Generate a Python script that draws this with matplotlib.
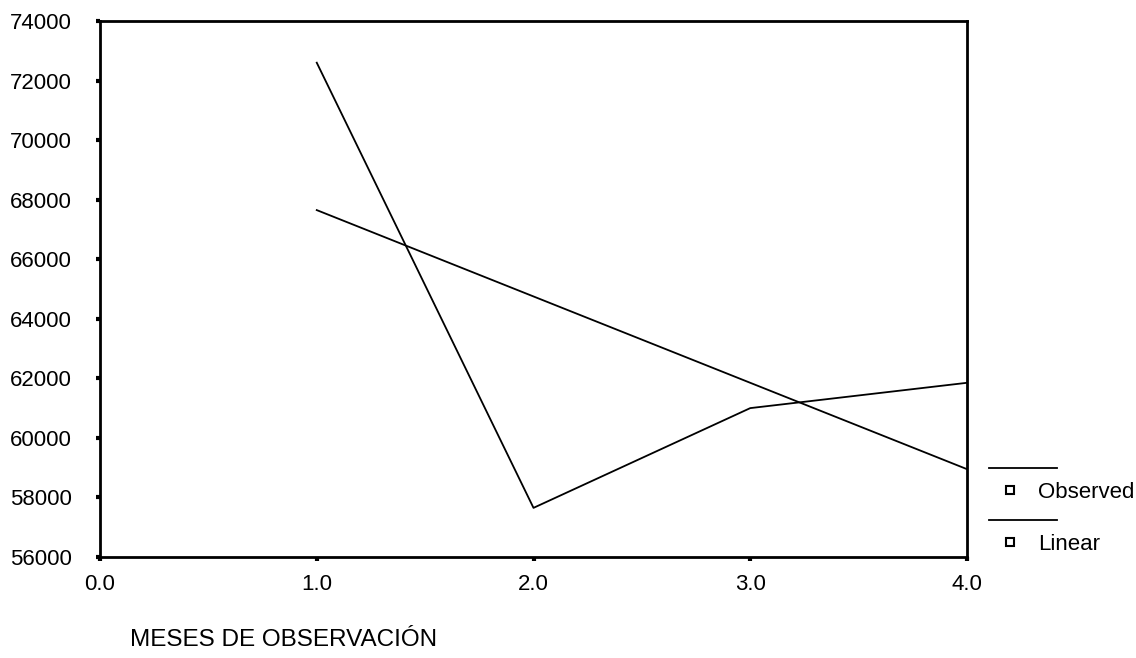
import matplotlib
matplotlib.use("Agg")
import matplotlib.pyplot as plt
from matplotlib.lines import Line2D

plt.rcParams['font.family'] = ['Liberation Sans', 'DejaVu Sans']

months = [1.0, 2.0, 3.0, 4.0]
observed = [72600, 57650, 61000, 61850]
linear = [67650, 64750, 61850, 58950]
xticks = [0.0, 1.0, 2.0, 3.0, 4.0]
xtick_labels = ["0.0", "1.0", "2.0", "3.0", "4.0"]
yticks = [56000, 58000, 60000, 62000, 64000, 66000, 68000, 70000, 72000, 74000]
legend_labels = ["Observed", "Linear"]
xlabel = "MESES DE OBSERVACIÓN"

W, H = 1136, 658
fig = plt.figure(figsize=(W / 100, H / 100), dpi=100)
ax = fig.add_axes([100 / W, 1 - 557 / H, (967 - 100) / W, (557 - 21) / H])

ax.plot(months, observed, color='black', lw=1.3)
ax.plot(months, linear, color='black', lw=1.3)

ax.set_xlim(0, 4)
ax.set_ylim(56000, 74000)
ax.set_xticks(xticks)
ax.set_xticklabels(xtick_labels)
ax.set_yticks(yticks)
ax.set_yticklabels([str(v) for v in yticks])
for s in ax.spines.values():
    s.set_linewidth(2.0)
ax.tick_params(axis='y', direction='out', length=3, width=3, pad=17, labelsize=16)
ax.tick_params(axis='x', direction='out', length=3, width=3, pad=9, labelsize=16)

# x label, left aligned below the axes
fig.text(130 / W, 1 - 640 / H, xlabel, fontsize=17.5, ha='left', va='center')

# legend drawn outside right
for i, lab in enumerate(legend_labels):
    ysep = 468 + i * 52
    ymk = 490 + i * 52
    fig.add_artist(Line2D([989 / W, 1057 / W], [1 - ysep / H, 1 - ysep / H],
                          color='black', lw=1.3, transform=fig.transFigure))
    fig.add_artist(Line2D([1010 / W], [1 - ymk / H], marker='s', markersize=6,
                          markerfacecolor='white', markeredgecolor='black',
                          markeredgewidth=1.5, linestyle='none',
                          transform=fig.transFigure))
    fig.text(1038 / W, 1 - (ymk + 2) / H, lab, fontsize=16, ha='left', va='center')

fig.savefig("out.png", dpi=100)
